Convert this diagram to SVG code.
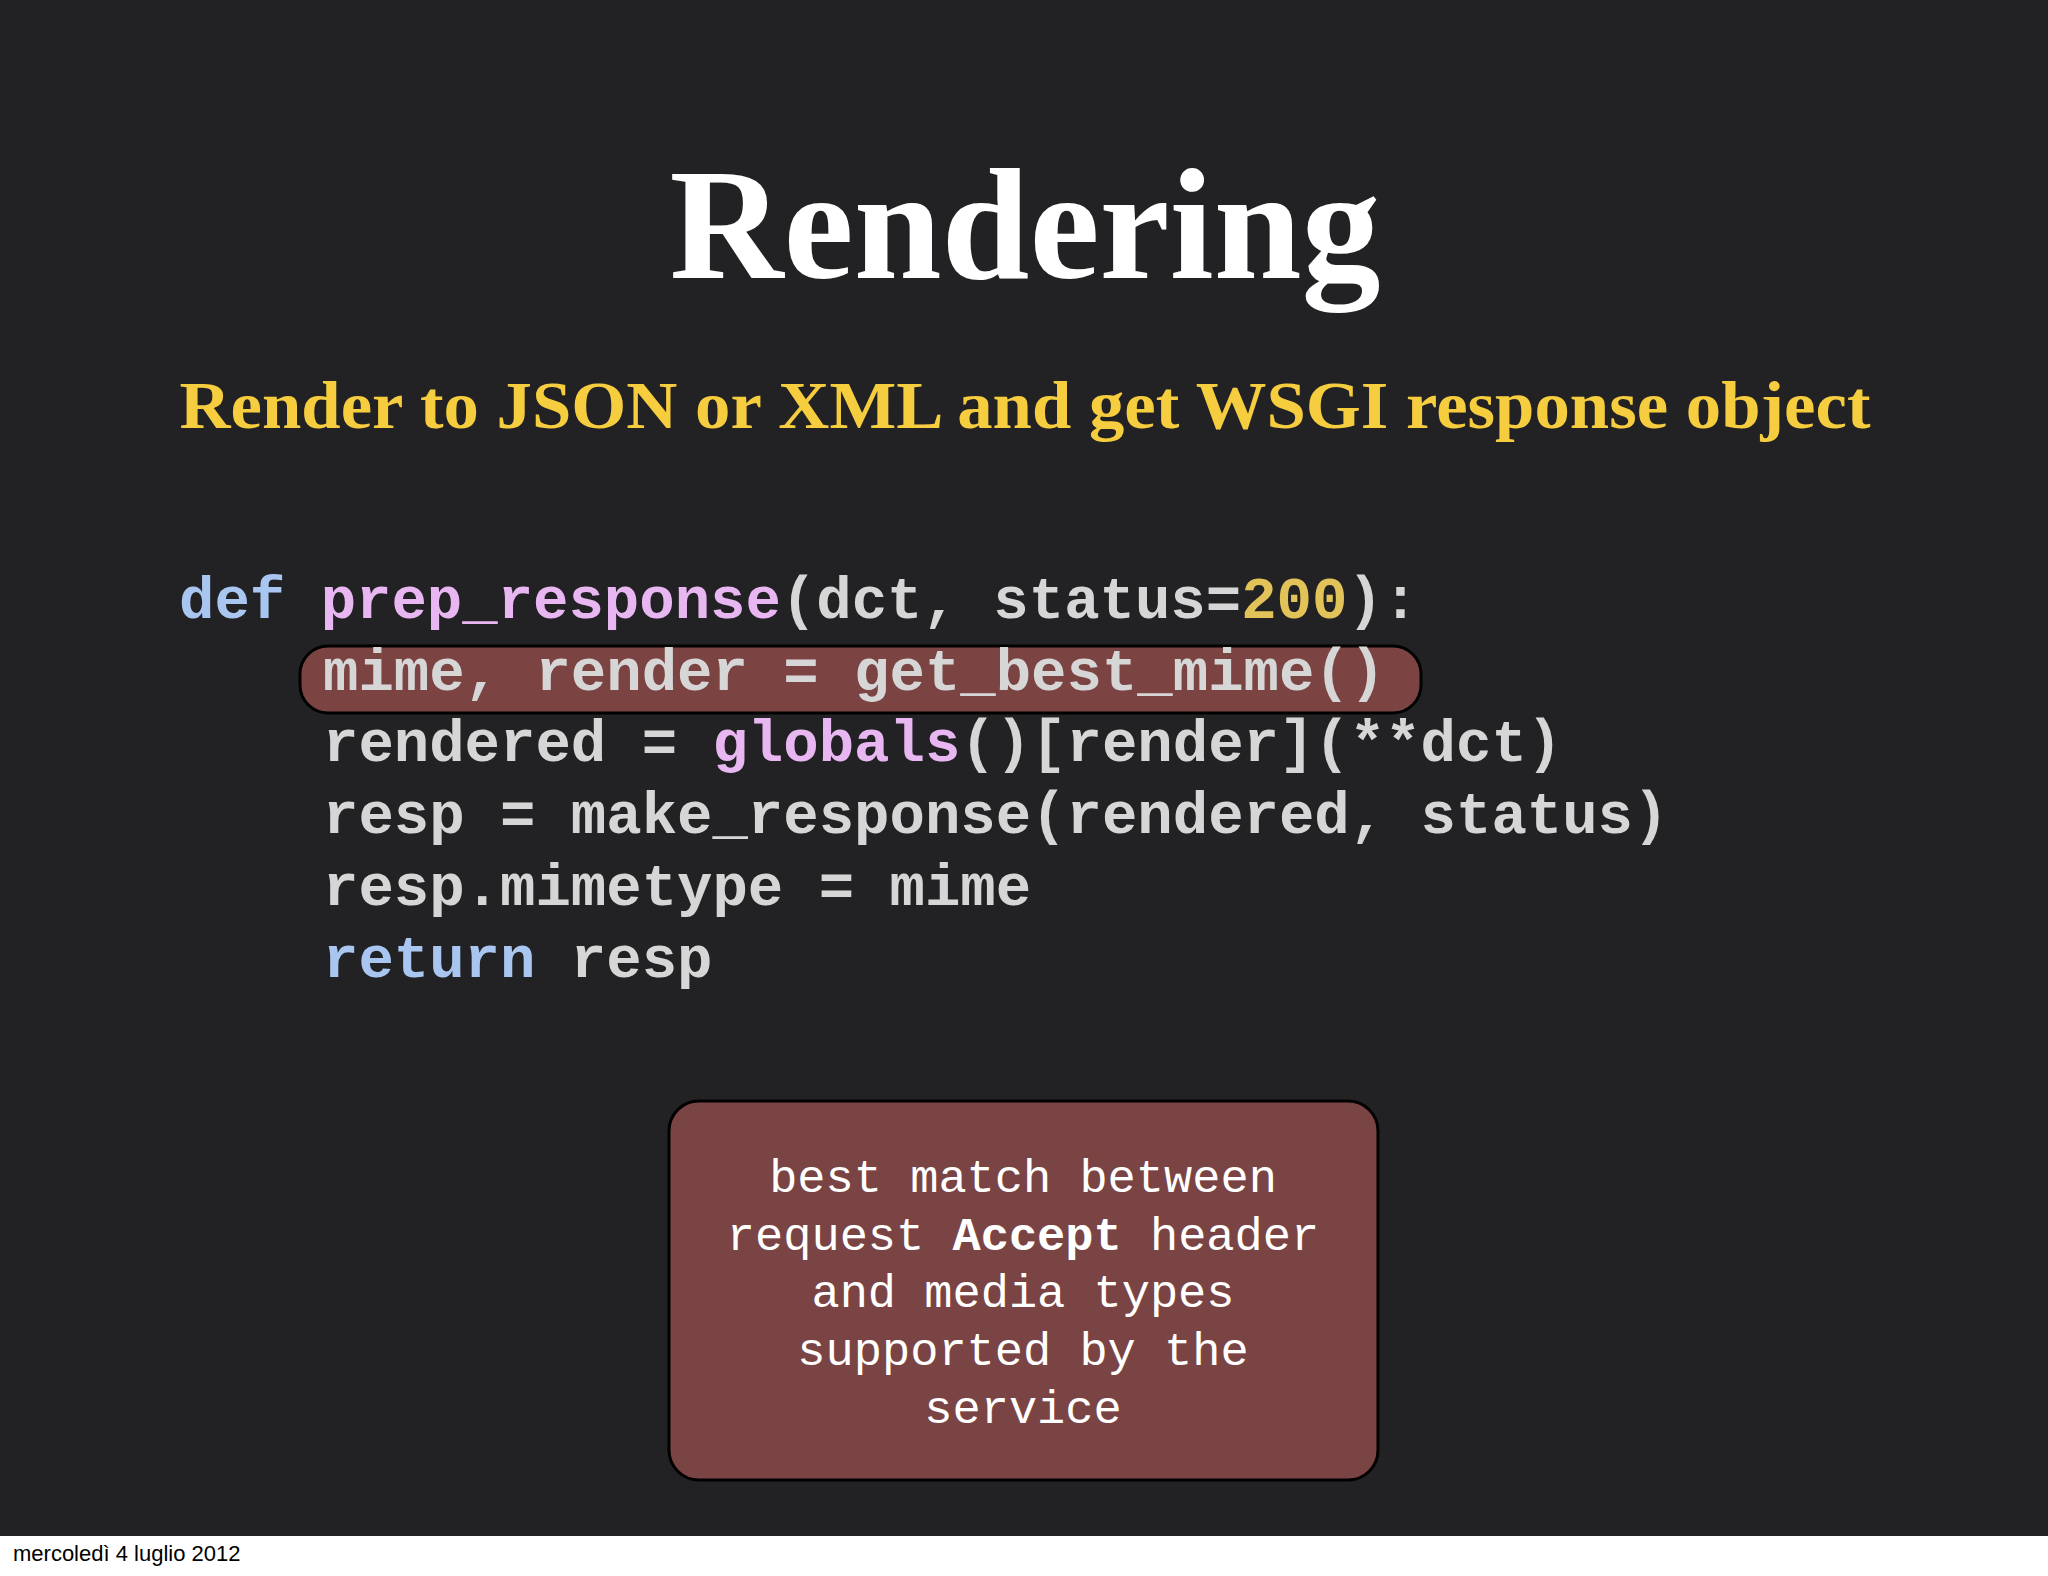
<svg xmlns="http://www.w3.org/2000/svg" width="2048" height="1576" viewBox="0 0 2048 1576">
<style>
.code{font-family:"Liberation Mono",monospace;font-weight:bold;font-size:59px;fill:#d6d6d6}
.kw{fill:#a9c6f0}.fn{fill:#e8b6f0}.num{fill:#e2c35a}
.note{font-family:"Liberation Mono",monospace;font-size:47px;fill:#ffffff;text-anchor:middle}
</style>
<rect width="2048" height="1576" fill="#ffffff"/>
<rect x="0" y="0" width="2048" height="1536" fill="#222224"/>
<g id="title"><text x="1025" y="278" font-family="Liberation Serif,serif" font-weight="bold" font-size="158" fill="#ffffff" text-anchor="middle">Rendering</text></g>
<g id="subtitle"><text x="1025" y="428" font-family="Liberation Serif,serif" font-weight="bold" font-size="68" fill="#f5cd3e" text-anchor="middle" textLength="1691" lengthAdjust="spacingAndGlyphs">Render to JSON or XML and get WSGI response object</text></g>
<g id="highlight"><rect x="300" y="646" width="1121" height="67" rx="28" fill="#7b4342" stroke="#000" stroke-width="3"/></g>
<g id="code">
<text class="code" x="179" y="618" xml:space="preserve"><tspan class="kw">def</tspan> <tspan class="fn">prep_response</tspan>(dct, status=<tspan class="num">200</tspan>):</text>
<text class="code" x="323" y="690" xml:space="preserve">mime, render = get_best_mime()</text>
<text class="code" x="323" y="761" xml:space="preserve">rendered = <tspan class="fn">globals</tspan>()[render](**dct)</text>
<text class="code" x="323" y="833" xml:space="preserve">resp = make_response(rendered, status)</text>
<text class="code" x="323" y="905" xml:space="preserve">resp.mimetype = mime</text>
<text class="code" x="323" y="977" xml:space="preserve"><tspan class="kw">return</tspan> resp</text>
</g>
<g id="callout">
<rect x="669" y="1101" width="709" height="379" rx="30" fill="#7b4444" stroke="#000" stroke-width="3"/>
<text class="note" x="1023" y="1192">best match between</text>
<text class="note" x="1023" y="1250">request <tspan font-weight="bold">Accept</tspan> header</text>
<text class="note" x="1023" y="1307">and media types</text>
<text class="note" x="1023" y="1365">supported by the</text>
<text class="note" x="1023" y="1423">service</text>
</g>
<g id="footer"><text x="13" y="1561" font-family="Liberation Sans,sans-serif" font-size="22" fill="#000">mercoledì 4 luglio 2012</text></g>
</svg>
